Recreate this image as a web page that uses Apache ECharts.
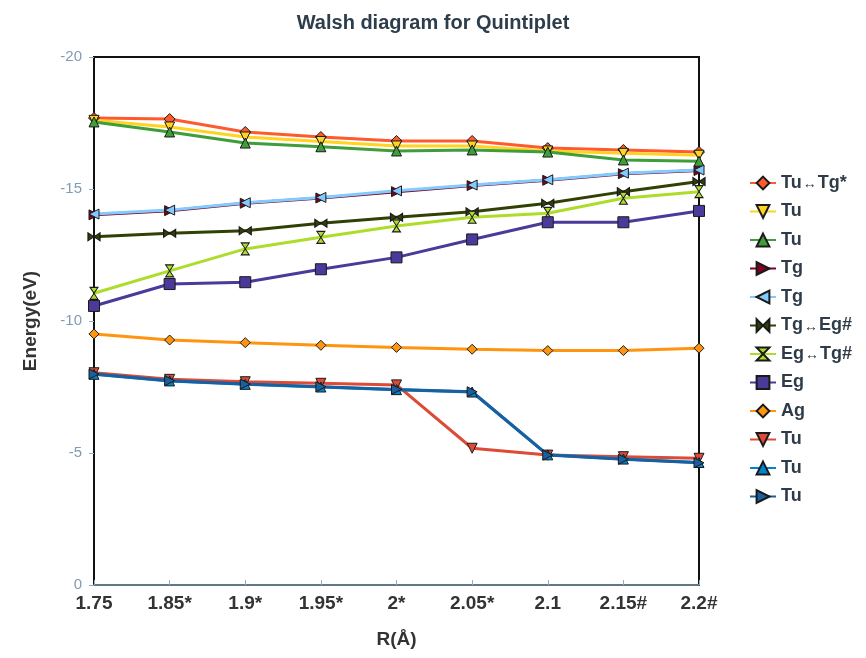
<!DOCTYPE html>
<html>
<head>
<meta charset="utf-8">
<script src="https://cdn.jsdelivr.net/npm/echarts@6/dist/echarts.min.js"></script>
<style>
  html, body { margin: 0; padding: 0; background: #fff; }
  #main { width: 866px; height: 658px; }
</style>
</head>
<body>
<div id="main"></div>
<script>
var myChart = echarts.init(document.getElementById('main'));

// 横轴 R(Å)
var categories = ['1.75', '1.85*', '1.9*', '1.95*', '2*', '2.05*', '2.1', '2.15#', '2.2#'];
var yTicks = [-20, -15, -10, -5, 0];

// 各能级 (eV)
var tuTgStar = [-17.69, -17.65, -17.16, -16.97, -16.82, -16.82, -16.55, -16.48, -16.40];
var tuYellow = [-17.60, -17.35, -16.97, -16.80, -16.63, -16.63, -16.44, -16.35, -16.28];
var tuGreen  = [-17.54, -17.16, -16.74, -16.60, -16.44, -16.48, -16.40, -16.10, -16.05];
var tgRed    = [-14.02, -14.18, -14.46, -14.66, -14.90, -15.13, -15.33, -15.58, -15.70];
var tgBlue   = [-14.05, -14.20, -14.48, -14.68, -14.93, -15.15, -15.35, -15.60, -15.72];
var tgEg     = [-13.19, -13.32, -13.42, -13.70, -13.93, -14.14, -14.46, -14.90, -15.28];
var egTg     = [-11.05, -11.90, -12.73, -13.17, -13.60, -13.93, -14.08, -14.65, -14.90];
var eg       = [-10.57, -11.40, -11.47, -11.96, -12.41, -13.09, -13.74, -13.74, -14.17];
var ag       = [-9.51, -9.28, -9.18, -9.08, -9.00, -8.93, -8.88, -8.88, -8.97];
var tuRed    = [-8.04, -7.79, -7.70, -7.64, -7.58, -5.18, -4.92, -4.86, -4.80];
var tuLight  = [-7.98, -7.73, -7.60, -7.50, -7.40, -7.31, -4.93, -4.77, -4.64];
var tuDark   = [-7.99, -7.74, -7.61, -7.51, -7.41, -7.32, -4.92, -4.76, -4.63];

var bowtie = 'path://M0,0 L10,5 L0,10 Z M20,0 L10,5 L20,10 Z';
var hourglass = 'path://M0,0 L10,0 L5,10 Z M0,20 L10,20 L5,10 Z';

function mk(name, data, color, symbol, rotate, size) {
    return {
        name: name,
        type: 'line',
        data: data,
        symbol: symbol,
        symbolRotate: rotate || 0,
        symbolSize: size || 10,
        lineStyle: { color: color, width: 3 },
        itemStyle: { color: color, borderColor: '#1a1a1a', borderWidth: 1 },
        emphasis: { disabled: true }
    };
}

var option = {
    animation: false,
    textStyle: { fontFamily: 'Liberation Sans, Arial, sans-serif' },
    title: {
        text: 'Walsh diagram for Quintiplet',
        left: 'center',
        top: 8,
        textStyle: { fontSize: 20, fontWeight: 'bold', color: '#2d3d4c' }
    },
    legend: {
        orient: 'vertical',
        left: 744,
        top: 169,
        itemGap: 10.5,
        itemWidth: 26,
        itemHeight: 16,
        textStyle: {
            fontSize: 18, fontWeight: 'bold', color: '#2e3b48',
            rich: { a: { fontSize: 14, fontWeight: 'normal', color: '#2e3b48', padding: [3, 1, 0, 1] } }
        },
        formatter: function (name) {
            return name.trim().replace('\u2194', '{a|\u2194}');
        },
        data: ['Tu\u2194Tg*', 'Tu ', 'Tu  ', 'Tg', 'Tg ', 'Tg\u2194Eg#', 'Eg\u2194Tg#', 'Eg', 'Ag', 'Tu   ', 'Tu    ', 'Tu     ']
    },
    grid: {
        left: 94,
        right: 167,
        top: 57,
        bottom: 73,
        show: true,
        borderColor: '#111',
        borderWidth: 2
    },
    xAxis: {
        type: 'category',
        boundaryGap: false,
        data: categories,
        name: 'R(\u00c5)',
        nameLocation: 'middle',
        nameGap: 45,
        nameTextStyle: { fontSize: 19, fontWeight: 'bold', color: '#333' },
        axisLine: { onZero: false, lineStyle: { color: '#7a9bb0', width: 1.5 } },
        axisTick: { inside: true, length: 5, lineStyle: { color: '#99aabb' } },
        axisLabel: { fontSize: 19, fontWeight: 'bold', color: '#333', margin: 9 },
        splitLine: { show: false }
    },
    yAxis: {
        type: 'value',
        min: -20,
        max: 0,
        interval: 5,
        inverse: true,
        name: 'Energy(eV)',
        nameLocation: 'middle',
        nameGap: 54,
        nameTextStyle: { fontSize: 19, fontWeight: 'bold', color: '#333' },
        axisLine: { show: true, lineStyle: { color: '#111', width: 2 } },
        axisTick: { show: true, length: 5, lineStyle: { color: '#8fb0c8' } },
        axisLabel: {
            fontSize: 15, color: '#7f9cb4', margin: 12,
            formatter: function (v) { return yTicks.indexOf(v) >= 0 ? String(v) : ''; }
        },
        splitLine: { show: false }
    },
    series: [
        mk('Tu\u2194Tg*', tuTgStar, '#ff5a2e', 'diamond', 0, 11),
        mk('Tu ', tuYellow, '#ffd320', 'triangle', 180, 10),
        mk('Tu  ', tuGreen, '#3f9d3a', 'triangle', 0, 10),
        mk('Tg', tgRed, '#7e0021', 'triangle', -90, 10),
        mk('Tg ', tgBlue, '#83caff', 'triangle', 90, 10),
        mk('Tg\u2194Eg#', tgEg, '#314004', bowtie, 0, [12, 8]),
        mk('Eg\u2194Tg#', egTg, '#aedc2a', hourglass, 0, [8, 12]),
        mk('Eg', eg, '#4b3a99', 'rect', 0, 11),
        mk('Ag', ag, '#ff950e', 'diamond', 0, 10),
        mk('Tu   ', tuRed, '#dd4a35', 'triangle', 180, 10),
        mk('Tu    ', tuLight, '#0084d1', 'triangle', 0, 10),
        mk('Tu     ', tuDark, '#1a5f9e', 'triangle', -90, 10)
    ]
};
myChart.setOption(option);
</script>
</body>
</html>
